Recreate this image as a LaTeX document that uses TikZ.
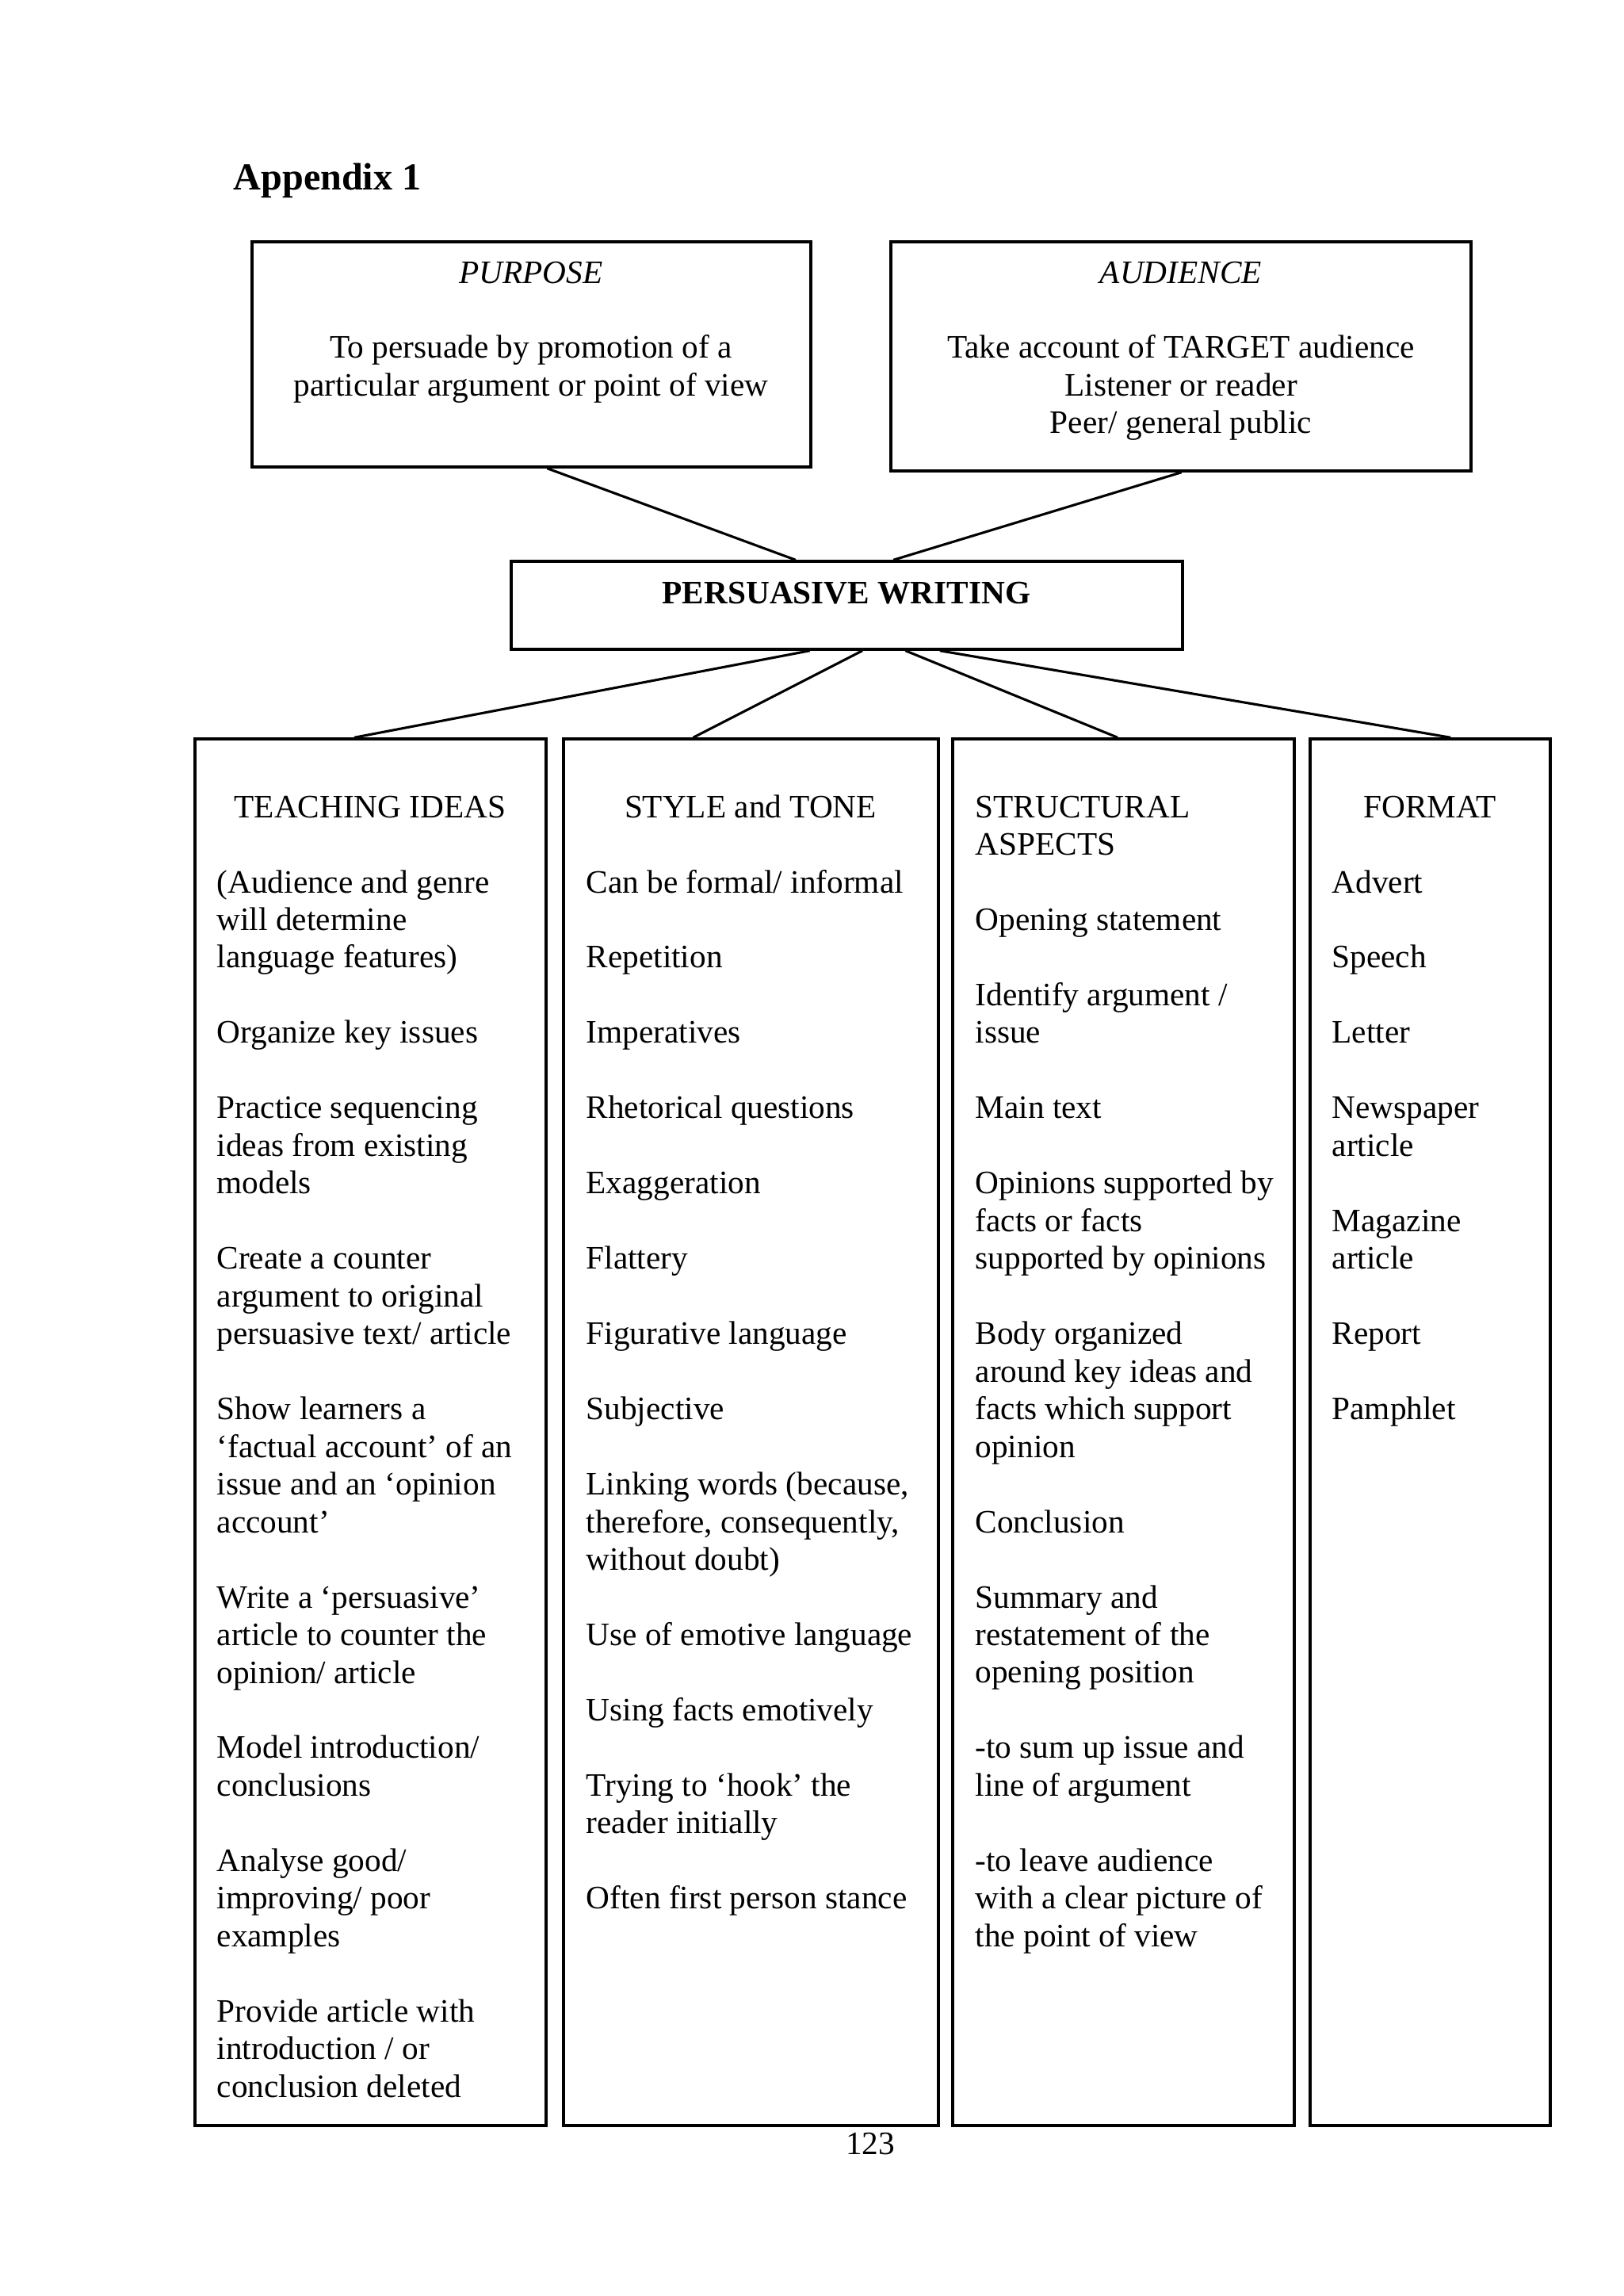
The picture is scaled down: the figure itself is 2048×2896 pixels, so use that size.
\documentclass[tikz,border=0pt]{standalone}
\usepackage{fontspec}
\setmainfont{Liberation Serif}
\usetikzlibrary{calc,fit}
\newcommand{\bl}{\\[13.8pt]}
\newcommand{\nsp}{\spaceskip=\fontdimen2\font\xspaceskip=\fontdimen2\font\relax}
\begin{document}
\begin{tikzpicture}[x=0.29066pt,y=-0.29066pt,
  box/.style={draw,line width=1pt,inner sep=0pt},
  conn/.style={line width=0.9pt},
  txt/.style={inner sep=0pt,font=\fontsize{12}{13.8}\selectfont},
  body/.style={txt,anchor=base west,align=left},
  head/.style={txt,anchor=base,align=center}]
\path[use as bounding box,fill=white] (0,0) rectangle (2048,2896);

\node[txt,anchor=base west,font=\fontsize{14}{16}\selectfont\bfseries] (title) at (294,239) {Appendix 1};

% top boxes
\node[box,fit={(318,305) (1023,589)}] (purpose) {};
\node[box,fit={(1124,305) (1856,594)}] (audience) {};
\node[box,fit={(645,708) (1492,819)}] (pw) {};

\node[head,text width=200pt] (purposetxt) at (670,357)
  {\nsp\itshape PURPOSE\upshape\bl To persuade by promotion of a\\particular argument or point of view};
\node[head,text width=210pt] (audiencetxt) at (1490,357)
  {\nsp\itshape AUDIENCE\upshape\bl Take account of TARGET audience\\Listener or reader\\Peer/ general public};
\node[txt,anchor=base,font=\fontsize{12}{13.8}\selectfont\bfseries] (pwtxt) at (1068,761) {PERSUASIVE WRITING};

% columns
\node[box,fit={(246,932) (689,2681)}] (col1) {};
\node[box,fit={(711,932) (1184,2681)}] (col2) {};
\node[box,fit={(1202,932) (1633,2681)}] (col3) {};
\node[box,fit={(1653,932) (1956,2681)}] (col4) {};

% connectors
\draw[conn] ($(purpose.south west)!0.528!(purpose.south east)$) -- ($(pw.north west)!0.424!(pw.north east)$);
\draw[conn] ($(audience.south west)!0.501!(audience.south east)$) -- ($(pw.north west)!0.569!(pw.north east)$);
\draw[conn] ($(pw.south west)!0.445!(pw.south east)$) -- ($(col1.north west)!0.454!(col1.north east)$);
\draw[conn] ($(pw.south west)!0.523!(pw.south east)$) -- ($(col2.north west)!0.347!(col2.north east)$);
\draw[conn] ($(pw.south west)!0.587!(pw.south east)$) -- ($(col3.north west)!0.483!(col3.north east)$);
\draw[conn] ($(pw.south west)!0.638!(pw.south east)$) -- ($(col4.north west)!0.584!(col4.north east)$);

% column texts
\node[head] (h1) at (467,1031) {TEACHING IDEAS};
\node[body,text width=122pt] (b1) at (273,1126) {\nsp(Audience and genre\\will determine\\language features)\bl
Organize key issues\bl
Practice sequencing\\ideas from existing\\models\bl
Create a counter\\argument to original\\persuasive text/ article\bl
Show learners a\\‘factual account’ of an\\issue and an ‘opinion\\account’\bl
Write a ‘persuasive’\\article to counter the\\opinion/ article\bl
Model introduction/\\conclusions\bl
Analyse good/\\improving/ poor\\examples\bl
Provide article with\\introduction / or\\conclusion deleted};

\node[head] (h2) at (947,1031) {STYLE and TONE};
\node[body,text width=127pt] (b2) at (739,1126) {\nsp Can be formal/ informal\bl
Repetition\bl
Imperatives\bl
Rhetorical questions\bl
Exaggeration\bl
Flattery\bl
Figurative language\bl
Subjective\bl
Linking words (because,\\therefore, consequently,\\without doubt)\bl
Use of emotive language\bl
Using facts emotively\bl
Trying to ‘hook’ the\\reader initially\bl
Often first person stance};

\node[body,text width=116pt] (b3) at (1230,1031) {\nsp STRUCTURAL\\ASPECTS\bl
Opening statement\bl
Identify argument /\\issue\bl
Main text\bl
Opinions supported by\\facts or facts\\supported by opinions\bl
Body organized\\around key ideas and\\facts which support\\opinion\bl
Conclusion\bl
Summary and\\restatement of the\\opening position\bl
-to sum up issue and\\line of argument\bl
-to leave audience\\with a clear picture of\\the point of view};

\node[head] (h4) at (1804,1031) {FORMAT};
\node[body,text width=78pt] (b4) at (1680,1126) {\nsp Advert\bl
Speech\bl
Letter\bl
Newspaper\\article\bl
Magazine\\article\bl
Report\bl
Pamphlet};

\node[txt,anchor=base] (pageno) at (1098,2717) {123};
\end{tikzpicture}
\end{document}
